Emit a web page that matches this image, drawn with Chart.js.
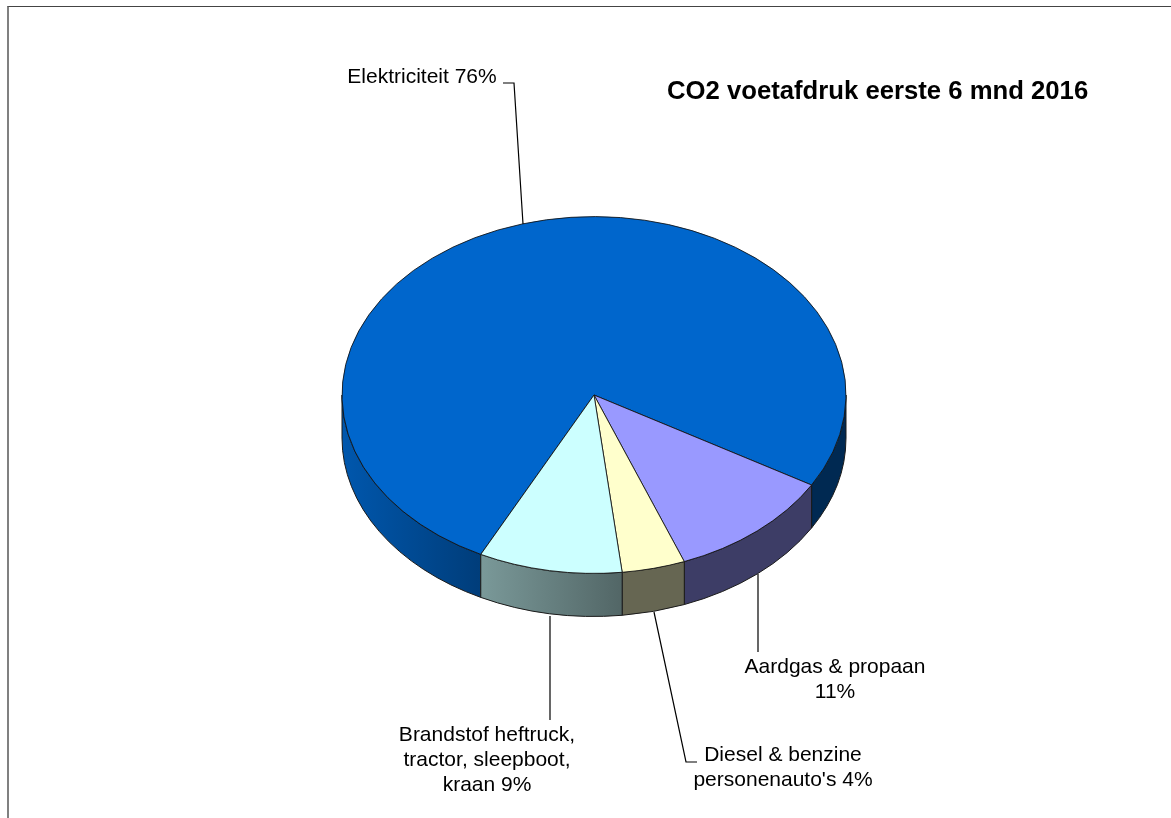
<!DOCTYPE html>
<html>
<head>
<meta charset="utf-8">
<title>CO2 voetafdruk</title>
<script src="https://cdn.jsdelivr.net/npm/chart.js@4"></script>
<style>
  html, body { margin: 0; padding: 0; background: #fff; overflow: hidden; }
  #wrap { position: relative; width: 1171px; height: 818px; }
  #frame { position: absolute; left: 7px; top: 6px; width: 1171px; height: 830px; border-top: 1px solid #444; border-left: 2px solid #808080; }
  canvas { position: absolute; left: 0; top: 0; }
</style>
</head>
<body>
<div id="wrap">
  <div id="frame"></div>
  <canvas id="co2Chart" width="1171" height="818"></canvas>
</div>
<script>
var categories = ['Elektriciteit', 'Aardgas & propaan', 'Diesel & benzine personenauto\'s', 'Brandstof heftruck, tractor, sleepboot, kraan'];
var shares = [76, 10.75, 4.05, 9.2];
var sliceColors = ['#0066cc', '#9999ff', '#ffffcc', '#ccffff'];
var titleText = 'CO2 voetafdruk eerste 6 mnd 2016';
var labelLines = [
  ['Elektriciteit 76%'],
  ['Aardgas & propaan', '11%'],
  ['Diesel & benzine', "personenauto's 4%"],
  ['Brandstof heftruck,', 'tractor, sleepboot,', 'kraan 9%']
];

// tilt of the pie, the library draws a circle and we squash it
var tilt = 0.708;
var depth = 43;

function darken(hex, f) {
  var n = parseInt(hex.slice(1), 16);
  return 'rgb(' + Math.round((n >> 16) * f) + ',' + Math.round(((n >> 8) & 255) * f) + ',' + Math.round((n & 255) * f) + ')';
}

//################ 3d side of the pie #############################
var sidePlugin = {
  id: 'pieSide',
  beforeDatasetsDraw: function(chart) {
    var ctx = chart.ctx;
    var arcs = chart.getDatasetMeta(0).data;
    ctx.save();
    arcs.forEach(function(arc, i) {
      // only the front half is seen
      var segs = [];
      var a = arc.startAngle, b = arc.endAngle;
      [0, Math.PI * 2].forEach(function(shift) {
        var s = Math.max(a, shift), e = Math.min(b, shift + Math.PI);
        if (e > s) segs.push([s, e]);
      });
      var r = arc.outerRadius, cx = arc.x, cy = arc.y;
      segs.forEach(function(seg) {
        var x0 = cx + r * Math.cos(seg[0]), x1 = cx + r * Math.cos(seg[1]);
        var grad = ctx.createLinearGradient(Math.min(x0, x1), 0, Math.max(x0, x1), 0);
        var base = sliceColors[i];
        if (i == 0 && seg[0] > 6) {
          grad.addColorStop(0, darken(base, 0.4));
          grad.addColorStop(1, darken(base, 0.4));
        } else if (i == 0) {
          grad.addColorStop(0, darken(base, 0.85));
          grad.addColorStop(1, darken(base, 0.6));
        } else if (i == 3) {
          grad.addColorStop(0, darken(base, 0.6));
          grad.addColorStop(1, darken(base, 0.4));
        } else {
          grad.addColorStop(0, darken(base, 0.4));
          grad.addColorStop(1, darken(base, 0.4));
        }
        ctx.beginPath();
        ctx.ellipse(cx, cy, r, r * tilt, 0, seg[0], seg[1]);
        ctx.ellipse(cx, cy + depth, r, r * tilt, 0, seg[1], seg[0], true);
        ctx.closePath();
        ctx.fillStyle = grad;
        ctx.fill();
        ctx.lineWidth = 1;
        ctx.strokeStyle = '#1a1a1a';
        ctx.stroke();
      });
    });
    ctx.restore();
    // squash the real arcs
    var c = arcs[0];
    ctx.save();
    ctx.translate(c.x, c.y);
    ctx.scale(1, tilt);
    ctx.translate(-c.x, -c.y);
  },
  afterDatasetsDraw: function(chart) {
    chart.ctx.restore();
  }
};

//################ leader lines and labels #############################
var leaderLines = [
  [[503, 83], [514, 83], [523, 224]],
  [[758, 574], [758, 652]],
  [[654, 612], [686, 762], [697, 762]],
  [[550, 616], [550, 720]]
];
var labelAnchors = [
  [422, 77],
  [835, 667],
  [783, 755],
  [487, 735]
];

var labelPlugin = {
  id: 'sliceLabels',
  afterDraw: function(chart) {
    var ctx = chart.ctx;
    ctx.save();
    ctx.strokeStyle = '#000';
    ctx.lineWidth = 1.2;
    leaderLines.forEach(function(pts) {
      ctx.beginPath();
      pts.forEach(function(p, k) {
        if (k == 0) ctx.moveTo(p[0], p[1]); else ctx.lineTo(p[0], p[1]);
      });
      ctx.stroke();
    });
    ctx.fillStyle = '#000';
    ctx.font = '21px "Liberation Sans"';
    ctx.textAlign = 'center';
    ctx.textBaseline = 'middle';
    labelLines.forEach(function(lines, i) {
      lines.forEach(function(line, k) {
        ctx.fillText(line, labelAnchors[i][0], labelAnchors[i][1] + k * 25);
      });
    });
    ctx.font = 'bold 25.7px "Liberation Sans"';
    ctx.textAlign = 'left';
    ctx.fillText(titleText, 667, 92);
    ctx.restore();
  }
};

var chart = new Chart(document.getElementById('co2Chart'), {
  type: 'pie',
  data: {
    labels: categories,
    datasets: [{
      data: shares,
      backgroundColor: sliceColors,
      borderColor: '#111',
      borderWidth: 1
    }]
  },
  options: {
    responsive: false,
    animation: false,
    radius: 252,
    rotation: 206.7,
    layout: { padding: { left: 17, right: 0, top: 0, bottom: 28 } },
    plugins: {
      legend: { display: false },
      tooltip: { enabled: false }
    }
  },
  plugins: [sidePlugin, labelPlugin]
});
</script>
</body>
</html>
